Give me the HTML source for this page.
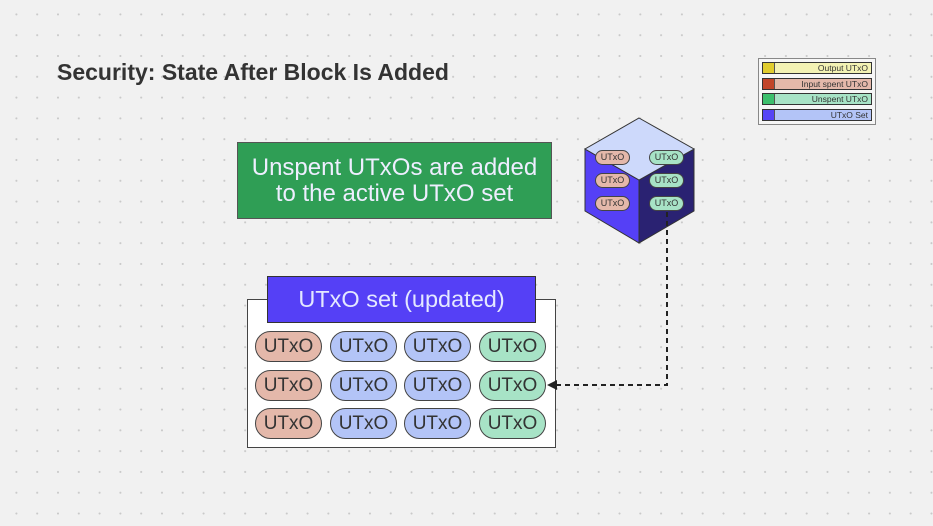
<!DOCTYPE html>
<html><head><style>
body{margin:0;width:933px;height:526px;overflow:hidden;background-color:#f1f1f1;background-image:radial-gradient(circle,#c9c9c9 0.8px,transparent 1.2px);background-size:20.8px 20.8px;background-position:6px 4px;font-family:"Liberation Sans",sans-serif;position:relative}
.a{position:absolute;box-sizing:border-box}
.pill{position:absolute;box-sizing:border-box;border:1px solid #444;border-radius:16px;width:67px;height:31px;font-size:19px;color:#333;text-align:center;line-height:29px}
.r{background:#e4b8aa}.b{background:#b3c4f7}.g{background:#a7e3c6}
.lg{position:absolute;left:762px;width:110px;height:12px;border:1px solid #333;box-sizing:border-box;font-size:8.5px;color:#333;text-align:right;padding-right:3px;line-height:10px}
.lg i{position:absolute;left:0;top:0;width:11px;height:10px;border-right:1px solid #555}
.sp{position:absolute;box-sizing:border-box;border:1px solid #444;border-radius:8px;width:35px;height:15px;font-size:9px;color:#333;text-align:center;line-height:13px}
</style></head><body>
<div class="a" style="left:57px;top:59px;font-size:23px;font-weight:bold;color:#333">Security: State After Block Is Added</div>

<div class="a" style="left:758px;top:58px;width:118px;height:67px;border:1px solid #888;background:#f6f6f6"></div>
<div class="lg" style="top:62px;background:#f3f2b4"><i style="background:#e0cc2e"></i>Output UTxO</div>
<div class="lg" style="top:78px;background:#e4b8aa"><i style="background:#c2452a"></i>Input spent UTxO</div>
<div class="lg" style="top:93px;background:#a7e3c6"><i style="background:#3cbf6c"></i>Unspent UTxO</div>
<div class="lg" style="top:109px;background:#b3c4f7"><i style="background:#5544f5"></i>UTxO Set</div>

<div class="a" style="left:237px;top:142px;width:315px;height:77px;background:#2f9e55;border:1px solid #555;color:#eef;font-size:24px;text-align:center;line-height:26px;padding-top:12px">Unspent UTxOs are added<br>to the active UTxO set</div>

<div class="a" style="left:247px;top:299px;width:309px;height:149px;background:#fff;border:1px solid #444"></div>
<div class="a" style="left:267px;top:276px;width:269px;height:47px;background:#5540f6;border:1px solid #333;color:#e4e8ff;font-size:23.5px;text-align:center;line-height:45px">UTxO set (updated)</div>

<svg class="a" style="left:0;top:0" width="933" height="526">
<polygon points="585,149 639,180 639,243 585,211" fill="#5540f6" stroke="#333"/>
<polygon points="694,149 639,180 639,243 694,211" fill="#2a2272" stroke="#333"/>
<polygon points="639,118 694,149 639,180 585,149" fill="#cdd9fb" stroke="#333"/>
<path d="M667,212 V385 H556" fill="none" stroke="#222" stroke-width="2" stroke-dasharray="5,4"/>
<polygon points="547,385 557,380 557,390" fill="#222"/>
</svg>
<div class="sp r" style="left:595px;top:150px">UTxO</div>
<div class="sp r" style="left:595px;top:173px">UTxO</div>
<div class="sp r" style="left:595px;top:196px">UTxO</div>
<div class="sp g" style="left:649px;top:150px">UTxO</div>
<div class="sp g" style="left:649px;top:173px">UTxO</div>
<div class="sp g" style="left:649px;top:196px">UTxO</div>

<div class="pill r" style="left:255px;top:331px">UTxO</div><div class="pill b" style="left:330px;top:331px">UTxO</div><div class="pill b" style="left:404px;top:331px">UTxO</div><div class="pill g" style="left:479px;top:331px">UTxO</div>
<div class="pill r" style="left:255px;top:370px">UTxO</div><div class="pill b" style="left:330px;top:370px">UTxO</div><div class="pill b" style="left:404px;top:370px">UTxO</div><div class="pill g" style="left:479px;top:370px">UTxO</div>
<div class="pill r" style="left:255px;top:408px">UTxO</div><div class="pill b" style="left:330px;top:408px">UTxO</div><div class="pill b" style="left:404px;top:408px">UTxO</div><div class="pill g" style="left:479px;top:408px">UTxO</div>
</body></html>
